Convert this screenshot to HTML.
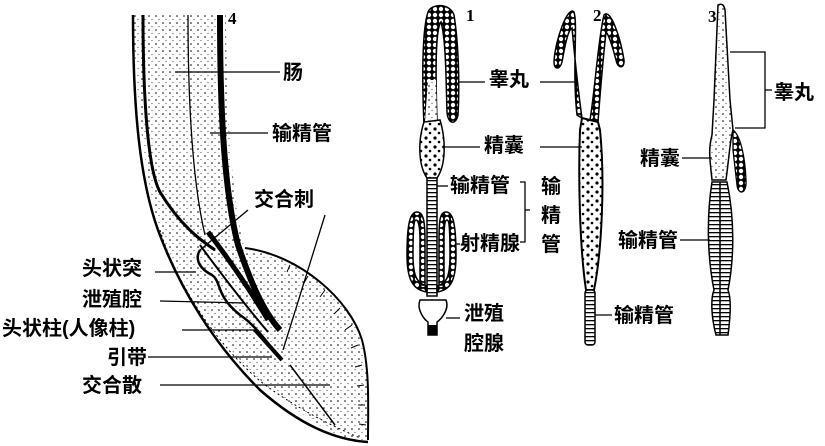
<!DOCTYPE html>
<html><head><meta charset="utf-8"><style>
html,body{margin:0;padding:0;background:#fff;}
svg{display:block;}
text{font-family:"Liberation Sans","Noto Sans CJK SC",sans-serif;font-size:20px;fill:#000;font-weight:bold;}
</style></head><body>
<svg width="825" height="446" viewBox="0 0 825 446" xmlns="http://www.w3.org/2000/svg">
<defs>
<pattern id="cells" width="6" height="6" patternUnits="userSpaceOnUse">
<rect width="6" height="6" fill="#000"/><circle cx="3" cy="3" r="2.2" fill="#fff"/>
</pattern>
<pattern id="seg" width="6" height="4" patternUnits="userSpaceOnUse">
<rect width="6" height="4" fill="#fff"/><rect y="0" width="6" height="1.3" fill="#000"/>
</pattern>
<pattern id="dots" width="7" height="7" patternUnits="userSpaceOnUse">
<rect width="7" height="7" fill="#fff"/><circle cx="2" cy="2" r="0.8" fill="#000"/><circle cx="5" cy="5.5" r="0.6" fill="#555"/>
</pattern>
<pattern id="blob" width="9" height="9" patternUnits="userSpaceOnUse">
<rect width="9" height="9" fill="#fff"/><circle cx="3" cy="3" r="1.6" fill="#000"/><circle cx="7" cy="7" r="1.3" fill="#000"/>
</pattern>
</defs>

<!-- Figure 4 -->
<path d="M133 15 L226 15 C226 110 232 200 245 250 C300 255 350 300 362 340 C368 370 368 410 368 440 L355 442 C320 430 280 400 250 370 C210 330 180 280 160 230 C145 180 137 110 133 15 Z" fill="url(#dots)" stroke="none"/>
<g fill="none" stroke="#000">
<path d="M133 15 C133 110 140 180 158 230 C180 290 215 345 260 390 C300 425 335 440 368 442" stroke-width="2.5"/>
<path d="M143 15 C143 100 148 170 160 192 C180 225 200 240 215 250" stroke-width="3"/>
<path d="M188 15 C188 100 192 180 205 235" stroke-width="1.3"/>
<path d="M220 15 C220 110 224 190 238 245 C250 280 262 310 280 330" stroke-width="6"/>
<path d="M245 248 C300 255 350 300 362 340 C370 370 368 410 368 440" stroke-width="2"/>
<path d="M160 230 C175 280 215 345 265 385 C300 410 330 425 360 438" stroke-width="1" stroke-dasharray="2 3"/>
<path d="M352 325 L345 330 M358 345 L351 348 M362 365 L355 367 M364 385 L357 386 M365 405 L358 405 M366 425 L359 424 M340 308 L334 314 M325 290 L320 297 M308 276 L304 283 M290 265 L287 272" stroke-width="1"/>
<path d="M208 232 C228 258 250 290 268 320" stroke-width="5"/>
<path d="M200 245 C222 275 245 305 268 332" stroke-width="2"/>
<path d="M200 250 C195 258 198 268 212 275 C222 282 215 295 240 315 C255 325 265 340 280 358" stroke-width="2.5"/>
<path d="M255 330 L282 360" stroke-width="4"/>
<path d="M290 365 C305 385 320 405 335 425" stroke-width="1.5"/>
</g>
<g stroke="#000" stroke-width="1.3">
<line x1="175" y1="72" x2="280" y2="72"/>
<line x1="210" y1="133" x2="268" y2="133"/>
<line x1="248" y1="210" x2="200" y2="250"/>
<line x1="325" y1="215" x2="283" y2="350"/>
<line x1="155" y1="272" x2="196" y2="272"/>
<line x1="160" y1="301" x2="245" y2="303"/>
<line x1="182" y1="330" x2="255" y2="330"/>
<line x1="148" y1="357" x2="272" y2="357"/>
<line x1="160" y1="385" x2="330" y2="385"/>
</g>

<!-- Figure 1 -->
<path d="M424 125 C422 80 422 30 428 12 C432 3 450 3 454 15 C458 40 460 80 458 115 C456 125 448 125 447 112 C446 80 446 40 441 22 C436 28 435 60 437 120 Z" fill="url(#cells)" stroke="#000" stroke-width="1.5"/>
<path d="M428 80 L436 80 L437 122 L425 122 Z" fill="url(#dots)" stroke="none"/>
<path d="M424 122 C418 140 418 165 427 178 L437 178 C446 165 446 140 440 120 Z" fill="url(#blob)" stroke="#000" stroke-width="1.5"/>
<rect x="427" y="178" width="10" height="118" fill="url(#seg)" stroke="#000" stroke-width="1.5"/>
<path d="M427 292 C413 290 407 280 407 255 C407 220 411 212 417 212 C423 212 425 220 425 240 L425 285 L420 285 L420 240 C420 225 418 220 416 220 C414 220 413 230 413 255 C413 278 418 284 427 286 Z" fill="url(#cells)" stroke="#000" stroke-width="1.5"/>
<path d="M437 292 C451 290 456 280 456 255 C456 220 452 212 446 212 C440 212 439 220 439 240 L439 285 L444 285 L444 240 C444 225 445 220 447 220 C449 220 450 230 450 255 C450 278 446 284 437 286 Z" fill="url(#cells)" stroke="#000" stroke-width="1.5"/>
<path d="M420 300 L446 300 C450 310 440 320 437 322 L437 335 L428 335 L428 322 C425 320 416 310 420 300 Z" fill="#fff" stroke="#000" stroke-width="1.5"/>
<rect x="428" y="325" width="9" height="10" fill="#000"/>

<!-- Figure 2 -->
<path d="M577 115 C572 70 578 25 574 12 C568 5 555 40 554 62 C554 70 560 70 562 62 C565 45 568 30 572 28 C575 60 578 90 582 118 Z" fill="url(#cells)" stroke="#000" stroke-width="1.5"/>
<path d="M590 120 C595 90 598 40 604 15 C610 8 620 35 624 60 C625 68 618 70 616 60 C612 45 609 35 606 32 C603 60 600 95 598 122 Z" fill="url(#cells)" stroke="#000" stroke-width="1.5"/>
<path d="M582 118 L598 122 L600 130 C605 180 602 250 594 290 L586 290 C580 250 578 180 580 130 Z" fill="url(#blob)" stroke="#000" stroke-width="2"/>
<rect x="585" y="290" width="10" height="55" rx="3" fill="url(#seg)" stroke="#000" stroke-width="1.5"/>

<!-- Figure 3 -->
<path d="M718 5 C722 3 724 5 725 10 L730 100 L733 130 C730 140 730 150 726 180 L712 180 C710 160 708 150 712 135 L714 100 Z" fill="url(#dots)" stroke="#000" stroke-width="1.5"/>
<path d="M733 130 C740 135 745 155 746 180 C747 195 738 195 737 185 L733 150 Z" fill="url(#cells)" stroke="#000" stroke-width="1.3"/>
<path d="M712 182 L727 182 C735 220 734 260 728 290 C732 300 730 320 728 335 L716 335 C712 320 710 300 714 290 C708 260 706 220 712 182 Z" fill="url(#seg)" stroke="#000" stroke-width="1.5"/>
<line x1="720" y1="182" x2="720" y2="335" stroke="#000" stroke-width="1.5"/>

<g stroke="#000" stroke-width="1.3" fill="none">
<line x1="458" y1="82" x2="485" y2="82"/>
<line x1="442" y1="147" x2="480" y2="147"/>
<line x1="437" y1="186" x2="448" y2="186"/>
<line x1="455" y1="244" x2="460" y2="244"/>
<line x1="446" y1="318" x2="460" y2="318"/>
<path d="M520 182 L525 182 L525 242 L520 242"/>
<line x1="525" y1="210" x2="530" y2="210"/>
<line x1="540" y1="82" x2="577" y2="82"/>
<line x1="540" y1="147" x2="582" y2="147"/>
<line x1="595" y1="315" x2="612" y2="315"/>
<line x1="682" y1="158" x2="712" y2="158"/>
<line x1="680" y1="240" x2="710" y2="240"/>
<path d="M730 52 L765 52 L765 128 L735 128"/>
<line x1="765" y1="90" x2="772" y2="90"/>
</g>
<text x="228" y="24" style="font-size:17px;font-family:'Liberation Serif',serif">4</text>
<text x="466" y="21" style="font-size:17px;font-family:'Liberation Serif',serif">1</text>
<text x="593" y="21" style="font-size:17px;font-family:'Liberation Serif',serif">2</text>
<text x="708" y="22" style="font-size:17px;font-family:'Liberation Serif',serif">3</text>
<text x="283" y="79">肠</text>
<text x="272" y="140">输精管</text>
<text x="254" y="206">交合刺</text>
<text x="82" y="275">头状突</text>
<text x="82" y="306">泄殖腔</text>
<text x="2" y="335">头状柱(人像柱)</text>
<text x="107" y="364">引带</text>
<text x="82" y="392">交合散</text>
<text x="489" y="86">睾丸</text>
<text x="484" y="152">精囊</text>
<text x="450" y="192">输精管</text>
<text x="541" y="193">输</text>
<text x="541" y="222">精</text>
<text x="541" y="251">管</text>
<text x="460" y="250">射精腺</text>
<text x="464" y="320">泄殖</text>
<text x="464" y="350">腔腺</text>
<text x="614" y="322">输精管</text>
<text x="774" y="99">睾丸</text>
<text x="640" y="165">精囊</text>
<text x="618" y="247">输精管</text>
</svg>
</body></html>
